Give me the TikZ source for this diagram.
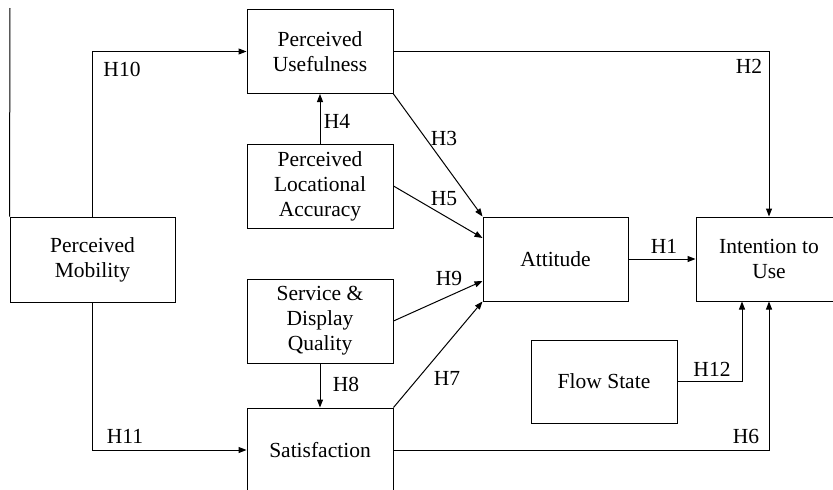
\documentclass[tikz,border=0pt]{standalone}
\usepackage{fontspec}
\setmainfont{Liberation Serif}
\usetikzlibrary{arrows.meta}
\begin{document}
\begin{tikzpicture}[x=1pt,y=-1pt,
 box/.style={draw, line width=1pt, minimum width=146pt, minimum height=84pt, align=center, inner sep=0pt, font=\fontsize{21.5}{25}\selectfont},
 lbl/.style={inner sep=0pt, anchor=base, font=\fontsize{21.5}{25}\selectfont},
 conn/.style={line width=1pt, -{Triangle[length=8pt,width=6pt]}},
 plain/.style={line width=1pt}
]
\useasboundingbox (0,0) rectangle (833,490);
\clip (0,0) rectangle (833,490);
\node[box, minimum width=165pt, minimum height=85pt] (mob) at (92.5,259.5) {Perceived\\Mobility};
\node[box] (pu) at (320,51.5) {Perceived\\Usefulness};
\node[box] (pla) at (320,186) {Perceived\\Locational\\Accuracy};
\node[box] (sdq) at (320,321) {Service \&\\Display\\Quality};
\node[box] (sat) at (320,450) {Satisfaction};
\node[box, minimum width=145pt] (att) at (555.5,259) {Attitude};
\node[box] (itu) at (769,259) {Intention to\\Use};
\node[box, minimum height=83pt] (fs) at (604,381.5) {Flow State};
\coordinate (topl) at (10,8);
\draw[plain] (topl) -- (mob.north west);
\draw[conn] (mob.north) |- (pu.west);
\draw[conn] (pu.east) -| (itu.north);
\draw[conn] (pla.north) -- (pu.south);
\draw[conn] (pu.south east) -- (att.north west);
\draw[conn] (pla.east) -- ([yshift=21pt]att.west);
\draw[conn] (sdq.east) -- ([yshift=-22pt]att.west);
\draw[conn] (sat.north east) -- (att.south west);
\draw[conn] (sdq.south) -- (sat.north);
\draw[conn] (mob.south) |- (sat.west);
\draw[conn] (att.east) -- (itu.west);
\draw[conn] (fs.east) -| ([xshift=-27pt]itu.south);
\draw[conn] (sat.east) -| (itu.south);
\node[lbl] (h10) at (122,76) {H10};
\node[lbl] (h4) at (337,128) {H4};
\node[lbl] (h2) at (749,73) {H2};
\node[lbl] (h3) at (444,145) {H3};
\node[lbl] (h5) at (444,205) {H5};
\node[lbl] (h1) at (664,253) {H1};
\node[lbl] (h9) at (449,285) {H9};
\node[lbl] (h7) at (447,385) {H7};
\node[lbl] (h12) at (712,376) {H12};
\node[lbl] (h6) at (746,443) {H6};
\node[lbl] (h8) at (346,391) {H8};
\node[lbl] (h11) at (125,443) {H11};
\end{tikzpicture}
\end{document}
